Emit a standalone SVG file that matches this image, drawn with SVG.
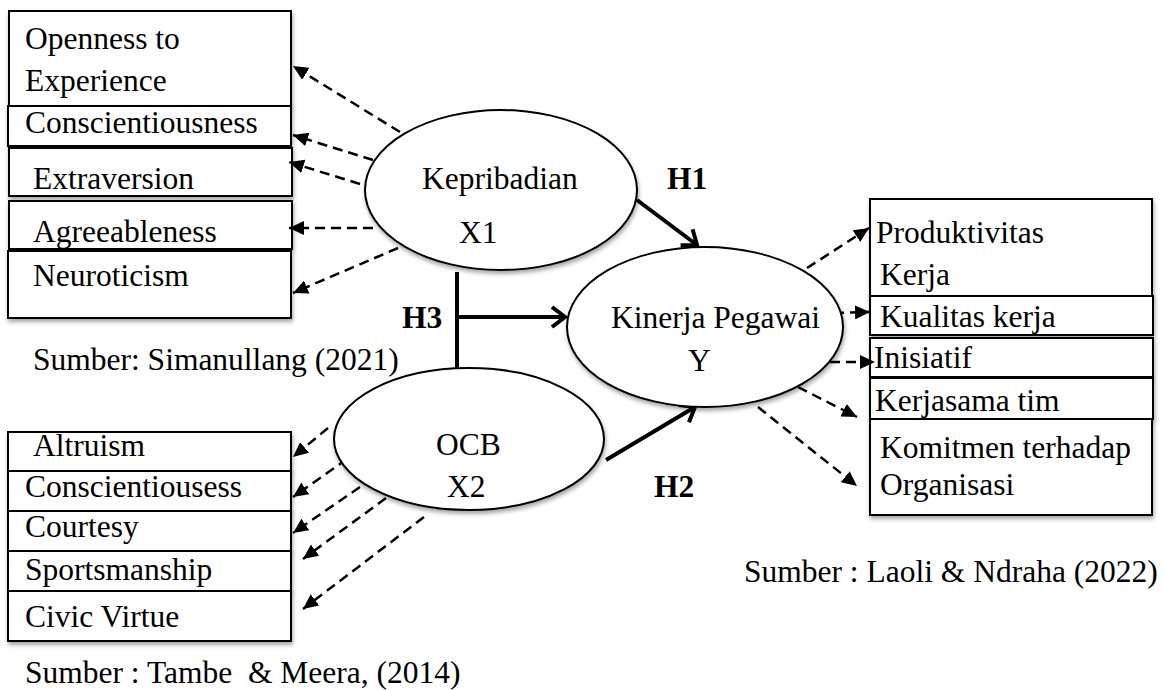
<svg xmlns="http://www.w3.org/2000/svg" width="1164" height="690" viewBox="0 0 1164 690" font-family="'Liberation Serif', 'Times New Roman', serif">
<style>
text{font-family:"Liberation Serif","Times New Roman",serif;font-size:31.5px;fill:#000}
.b{font-weight:bold}
.box{fill:#fff;stroke:#000;stroke-width:2;filter:url(#sh)}
.ell{fill:#fff;stroke:#000;stroke-width:2;filter:url(#sh)}
.dash{fill:none;stroke:#000;stroke-width:2.5;stroke-dasharray:10 6;marker-end:url(#tri)}
.solid{fill:none;stroke:#000;stroke-width:4;marker-end:url(#chev)}
</style>
<defs>
<filter id="sh" x="-10%" y="-10%" width="125%" height="130%">
<feDropShadow dx="1" dy="3" stdDeviation="2" flood-color="#000" flood-opacity="0.35"/>
</filter>
<marker id="tri" markerUnits="userSpaceOnUse" markerWidth="16" markerHeight="14" refX="15" refY="7" orient="auto">
<path d="M0,0 L15,7 L0,14 z" fill="#000"/>
</marker>
<marker id="chev" markerUnits="userSpaceOnUse" markerWidth="20" markerHeight="24" refX="17" refY="12" orient="auto">
<path d="M4,2 L17,12 L4,22" fill="none" stroke="#000" stroke-width="4"/>
</marker>
</defs>
<rect width="1164" height="690" fill="#fff"/>

<g id="box-openness"><rect class="box" x="9" y="11" width="282" height="95"/><text x="25" y="49">Openness to</text><text x="25" y="91">Experience</text></g>
<g id="box-conscientiousness"><rect class="box" x="8" y="106" width="283" height="40"/><text x="25" y="133">Conscientiousness</text></g>
<g id="box-extraversion"><rect class="box" x="9" y="148" width="283" height="48"/><text x="33" y="189">Extraversion</text></g>
<g id="box-agreeableness"><rect class="box" x="9" y="201" width="283" height="48"/><text x="33" y="242">Agreeableness</text></g>
<g id="box-neuroticism"><rect class="box" x="8" y="251" width="283" height="67"/><text x="33" y="286">Neuroticism</text></g>

<g id="box-altruism"><rect class="box" x="8" y="432" width="283" height="39"/><text x="33" y="456">Altruism</text></g>
<g id="box-conscientiousess"><rect class="box" x="8" y="471" width="283" height="40"/><text x="25" y="497">Conscientiousess</text></g>
<g id="box-courtesy"><rect class="box" x="8" y="511" width="283" height="40"/><text x="25" y="537">Courtesy</text></g>
<g id="box-sportsmanship"><rect class="box" x="8" y="551" width="283" height="40"/><text x="25" y="580">Sportsmanship</text></g>
<g id="box-civic"><rect class="box" x="8" y="591" width="283" height="50"/><text x="25" y="627">Civic Virtue</text></g>

<g id="box-produktivitas"><rect class="box" x="870" y="199" width="282" height="97"/><text x="876" y="243">Produktivitas</text><text x="880" y="285">Kerja</text></g>
<g id="box-kualitas"><rect class="box" x="870" y="296" width="283" height="39"/><text x="880" y="327">Kualitas kerja</text></g>
<g id="box-inisiatif"><rect class="box" x="870" y="338" width="283" height="39"/><text x="874" y="368">Inisiatif</text></g>
<g id="box-kerjasama"><rect class="box" x="870" y="378" width="283" height="41"/><text x="875" y="411">Kerjasama tim</text></g>
<g id="box-komitmen"><rect class="box" x="870" y="419" width="282" height="96"/><text x="880" y="458">Komitmen terhadap</text><text x="880" y="495">Organisasi</text></g>

<g id="connectors">
<path class="dash" d="M400,132 L293,66"/>
<path class="dash" d="M373,160 L293,135"/>
<path class="dash" d="M360,184 L289,162"/>
<path class="dash" d="M373,228 L289,228"/>
<path class="dash" d="M398,248 L293,293"/>

<path class="dash" d="M328,428 L293,457"/>
<path class="dash" d="M347,459 L293,497"/>
<path class="dash" d="M360,487 L293,533"/>
<path class="dash" d="M386,498 L303,559"/>
<path class="dash" d="M424,517 L303,609"/>

<path class="dash" d="M807,268 L869,228"/>
<path class="dash" d="M834,313 L870,312"/>
<path class="dash" d="M830,362 L875,362"/>
<path class="dash" d="M798,387 L857,417"/>
<path class="dash" d="M758,407 L857,486"/>

<path class="solid" d="M637,200 L697,245"/>
<path class="solid" d="M606,460 L695,407"/>
<path d="M457,272 L457,368" fill="none" stroke="#000" stroke-width="4"/>
<path class="solid" d="M457,317 L565,317"/>
</g>

<g id="node-kepribadian"><ellipse class="ell" cx="501" cy="190" rx="136" ry="80"/><text x="422" y="189">Kepribadian</text><text x="459" y="243">X1</text></g>
<g id="node-ocb"><ellipse class="ell" cx="469" cy="439" rx="135" ry="71"/><text x="436" y="455">OCB</text><text x="447" y="497">X2</text></g>
<g id="node-kinerja"><ellipse class="ell" cx="705" cy="327" rx="138" ry="80"/><text x="611" y="328">Kinerja Pegawai</text><text x="688" y="371">Y</text></g>

<g id="labels">
<text class="b" x="667" y="189">H1</text>
<text class="b" x="402" y="328">H3</text>
<text class="b" x="654" y="497">H2</text>
<text x="33" y="370">Sumber: Simanullang (2021)</text>
<text x="25" y="683" xml:space="preserve">Sumber : Tambe  &amp; Meera, (2014)</text>
<text x="744" y="582">Sumber : Laoli &amp; Ndraha (2022)</text>
</g>
</svg>
